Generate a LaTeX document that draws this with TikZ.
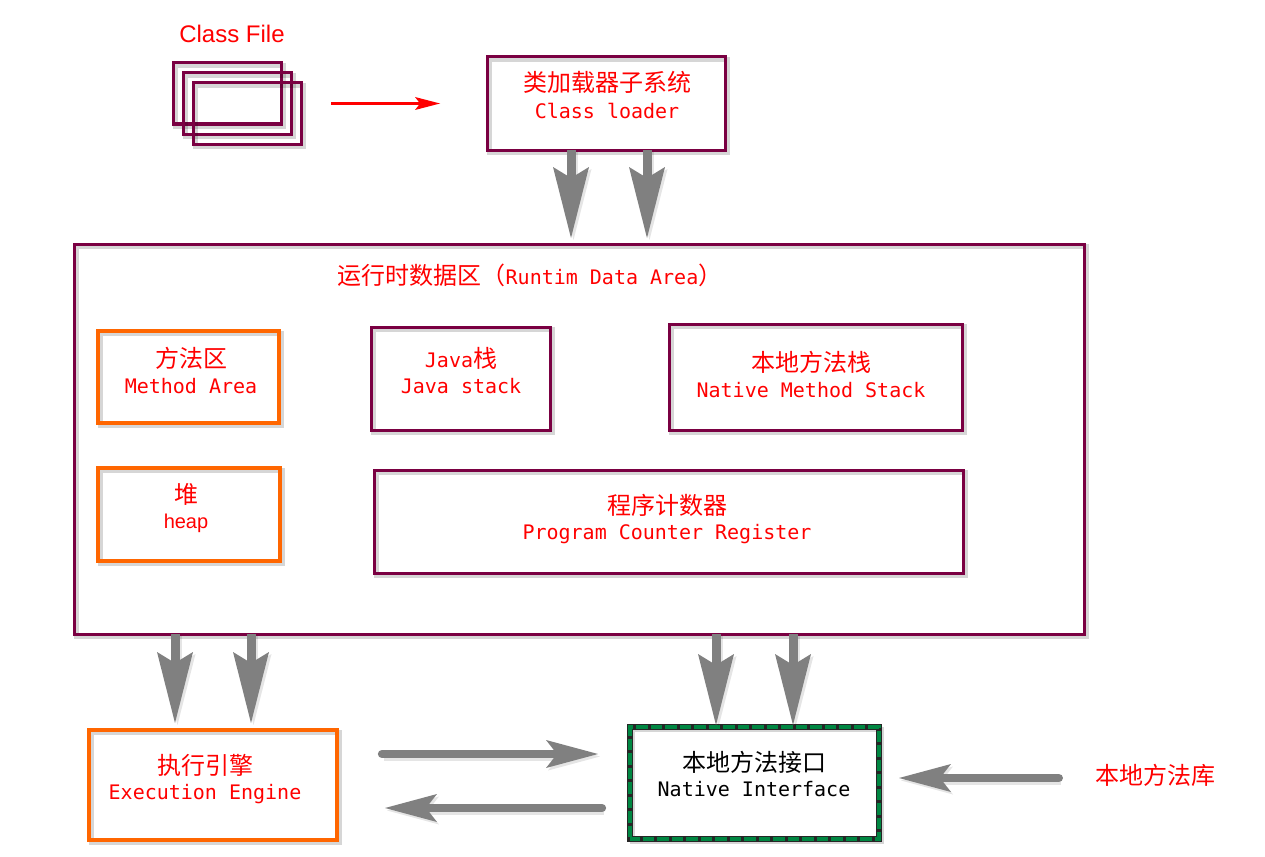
\documentclass[tikz,border=0pt]{standalone}
\usepackage{fontspec}
\newfontfamily\cjk{Noto Sans CJK SC}
\newfontfamily\mono{DejaVu Sans Mono}
\newfontfamily\arial{Liberation Sans}
\usetikzlibrary{arrows.meta}
\definecolor{maroon}{RGB}{122,0,66}
\definecolor{orng}{RGB}{255,102,0}
\definecolor{grn}{RGB}{0,135,66}
\definecolor{arrgray}{RGB}{128,128,128}
\definecolor{txtred}{RGB}{255,0,0}
\newcommand{\zh}{\cjk\fontsize{24}{24}\selectfont}
\newcommand{\en}{\mono\fontsize{20}{20}\selectfont}
\tikzset{
  shd/.style={preaction={draw=black,draw opacity=0.16,line width=5pt,transform canvas={xshift=2.5pt,yshift=-2.5pt}}},
  mbox/.style={draw=maroon,line width=3pt,shd,inner sep=0pt,outer sep=0pt},
  obox/.style={draw=orng,line width=3.5pt,shd,inner sep=0pt,outer sep=0pt},
  nbox/.style={draw=black!85,line width=5.6pt,shd,inner sep=0pt,outer sep=0pt,
     postaction={draw=grn,line width=4.2pt,dash pattern=on 11.5pt off 3pt,dash phase=2pt}},
  lbl/.style={anchor=base,inner sep=0pt,text=txtred},
  blbl/.style={anchor=base,inner sep=0pt,text=black},
  bigarrow/.style={draw=arrgray,line width=9pt,
     preaction={draw=black,opacity=0.1,line width=9pt,transform canvas={xshift=2.5pt,yshift=-2pt}},
     -{Stealth[length=71pt,width=36pt,inset=11pt,line width=0pt]}},
  harrow/.style={draw=arrgray,line width=8.3pt,line cap=round,
     preaction={draw=black,opacity=0.1,line width=8.3pt,transform canvas={xshift=2pt,yshift=-2.5pt}},
     -{Stealth[length=52pt,width=28pt,inset=11pt,line width=0pt]}},
  redarrow/.style={draw=red,line width=3pt,
     -{Stealth[length=25pt,width=13pt,inset=5pt,line width=0pt]}},
}
\begin{document}
\begin{tikzpicture}[x=1pt,y=-1pt]
\useasboundingbox (0,0) rectangle (1265,856);
\fill[white] (0,0) rectangle (1265,856);

% class files
\node[mbox,minimum width=108,minimum height=61] (cf1) at (227,93.5) {};
\node[mbox,minimum width=108,minimum height=61] (cf2) at (237,103.5) {};
\node[mbox,minimum width=108,minimum height=61] (cf3) at (247,113.5) {};
\node[lbl,font=\arial\fontsize{24}{24}\selectfont] (cft) at (232,43) {Class File};

% class loader
\node[mbox,minimum width=238,minimum height=93] (loader) at (606,103.5) {};
\node[lbl] (loadz) at (607,92) {\zh 类加载器子系统};
\node[lbl] (loade) at (607,119) {\en Class loader};

% runtime data area
\node[mbox,minimum width=1010,minimum height=390] (rda) at (579,439) {};
\node[lbl] (rdat) at (530,284) {\zh 运行时数据区（\en Runtim Data Area\zh ）};

\node[obox,minimum width=181,minimum height=92] (meth) at (188.5,377) {};
\node[lbl] (methz) at (191,367) {\zh 方法区};
\node[lbl] (methe) at (191,393) {\en Method Area};

\node[mbox,minimum width=179,minimum height=103] (js) at (460.5,378.5) {};
\node[lbl] (jsz) at (461,367) {\en Java\zh 栈};
\node[lbl] (jse) at (461,393) {\en Java stack};

\node[mbox,minimum width=293,minimum height=106] (nms) at (815.5,377) {};
\node[lbl] (nmsz) at (811,371) {\zh 本地方法栈};
\node[lbl] (nmse) at (811,397) {\en Native Method Stack};

\node[obox,minimum width=182,minimum height=93] (heap) at (189,514.5) {};
\node[lbl] (heapz) at (186,503) {\zh 堆};
\node[lbl] (heape) at (186,528) {\arial\fontsize{20}{20}\selectfont heap};

\node[mbox,minimum width=589,minimum height=103] (pc) at (668.5,521.5) {};
\node[lbl] (pcz) at (667,514) {\zh 程序计数器};
\node[lbl] (pce) at (667,539) {\en Program Counter Register};

% execution engine
\node[obox,minimum width=248,minimum height=110] (exec) at (213,785) {};
\node[lbl] (execz) at (205,774) {\zh 执行引擎};
\node[lbl] (exece) at (205,799) {\en Execution Engine};

% native interface
\node[nbox,minimum width=249,minimum height=112] (ni) at (754.5,783) {};
\node[blbl] (niz) at (754,771) {\zh 本地方法接口};
\node[blbl] (nie) at (754,796) {\en Native Interface};

% native library
\node[lbl] (lib) at (1155,784) {\zh 本地方法库};

% helper coordinates
\coordinate (ra) at (0,103.5);
\coordinate (xa) at (571,0);
\coordinate (xb) at (647,0);
\coordinate (xc) at (175,0);
\coordinate (xd) at (251,0);
\coordinate (xe) at (716,0);
\coordinate (xf) at (793,0);
\coordinate (ya) at (0,754);
\coordinate (yb) at (0,808);
\coordinate (yc) at (0,778);

% connectors
\draw[redarrow,shorten <=30pt,shorten >=47pt] (cf3.east |- ra) -- (loader.west |- ra);

\draw[bigarrow,shorten >=6pt] (loader.south -| xa) -- (rda.north -| xa);
\draw[bigarrow,shorten >=6pt] (loader.south -| xb) -- (rda.north -| xb);

\draw[bigarrow,shorten >=7pt] (rda.south -| xc) -- (exec.north -| xc);
\draw[bigarrow,shorten >=7pt] (rda.south -| xd) -- (exec.north -| xd);
\draw[bigarrow,shorten >=2pt] (rda.south -| xe) -- (ni.north -| xe);
\draw[bigarrow,shorten >=2pt] (rda.south -| xf) -- (ni.north -| xf);

\draw[harrow,shorten <=45pt,shorten >=32pt] (exec.east |- ya) -- (ni.west |- ya);
\draw[harrow,shorten <=28pt,shorten >=48pt] (ni.west |- yb) -- (exec.east |- yb);
\draw[harrow,shorten <=36pt,shorten >=20pt] (lib.west |- yc) -- (ni.east |- yc);
\end{tikzpicture}
\end{document}
